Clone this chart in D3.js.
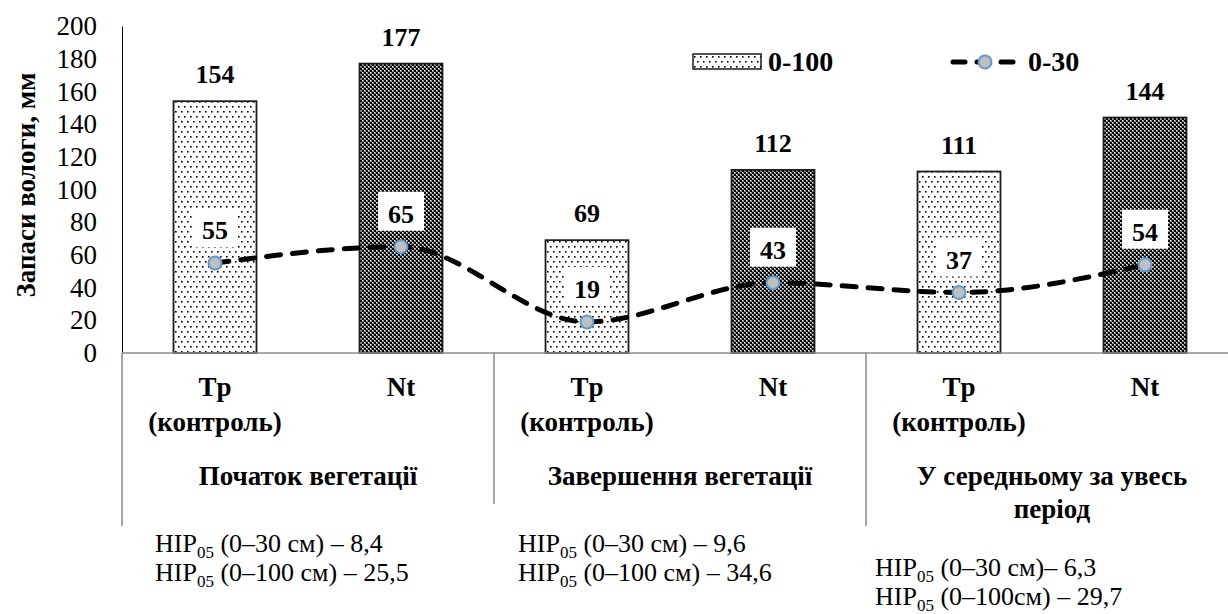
<!DOCTYPE html>
<html>
<head>
<meta charset="utf-8">
<script src="https://cdn.jsdelivr.net/npm/d3@7"></script>
<style>
  body { margin: 0; background: #fff; }
  svg { display: block; }
  svg text { font-family: "Liberation Serif", "DejaVu Serif", "Noto Serif", "Times New Roman", Times, serif; }
</style>
</head>
<body>
<div id="chart"></div>
<script>
// data
const groups = ["Початок вегетації", "Завершення вегетації", "У середньому за увесь період"];
const groupLabelLines = [["Початок вегетації"], ["Завершення вегетації"], ["У середньому за увесь", "період"]];
const variants = ["Tp", "Nt"];
const variantLabelLines = [["Tp", "(контроль)"], ["Nt"]];
const stock0_100 = [154, 177, 69, 112, 111, 144];
const stock0_30 = [55, 65, 19, 43, 37, 54];
const yTicks = [0, 20, 40, 60, 80, 100, 120, 140, 160, 180, 200];
const hip30 = ["(0–30 см) – 8,4", "(0–30 см) – 9,6", "(0–30 см)– 6,3"];
const hip100 = ["(0–100 см) – 25,5", "(0–100 см) – 34,6", "(0–100см) – 29,7"];
const legendNames = ["0-100", "0-30"];

const width = 1228, height = 614;
const plotLeft = 122, plotRight = 1238, plotTop = 26, plotBottom = 353;
const serif = "'Liberation Serif', 'DejaVu Serif', 'Noto Serif', 'Times New Roman', serif";

const svg = d3.select("#chart").append("svg")
    .attr("width", width)
    .attr("height", height)
    .attr("viewBox", `0 0 ${width} ${height}`)
    .style("font-family", serif);

// patterns
const defs = svg.append("defs");
const dots = defs.append("pattern")
    .attr("id", "dots")
    .attr("patternUnits", "userSpaceOnUse")
    .attr("width", 6).attr("height", 10);
dots.append("rect").attr("width", 6).attr("height", 10).attr("fill", "#fff");
dots.append("rect").attr("x", 1).attr("y", 1).attr("width", 1.6).attr("height", 1.6).attr("fill", "#000");
dots.append("rect").attr("x", 4).attr("y", 6).attr("width", 1.6).attr("height", 1.6).attr("fill", "#000");

const checks = defs.append("pattern")
    .attr("id", "checks")
    .attr("patternUnits", "userSpaceOnUse")
    .attr("width", 4).attr("height", 4);
checks.append("rect").attr("width", 4).attr("height", 4).attr("fill", "#8a8a8a");
checks.append("rect").attr("x", 0).attr("y", 0).attr("width", 2).attr("height", 2).attr("fill", "#000");
checks.append("rect").attr("x", 2).attr("y", 2).attr("width", 2).attr("height", 2).attr("fill", "#000");
checks.append("rect").attr("x", 2).attr("y", 0).attr("width", 1).attr("height", 1).attr("fill", "#fff");
checks.append("rect").attr("x", 0).attr("y", 2).attr("width", 1).attr("height", 1).attr("fill", "#fff");

const fills = ["url(#dots)", "url(#checks)"];

const rows = groups.flatMap((g, gi) => variants.map((v, vi) => ({
    group: g,
    variant: v,
    vi: vi,
    deep: stock0_100[gi * 2 + vi],
    shallow: stock0_30[gi * 2 + vi]
})));

const groupX = d3.scaleBand().domain(groups).range([plotLeft, plotRight]);
const subX = d3.scaleBand().domain(variants)
    .range([0, groupX.bandwidth()])
    .paddingInner(0.554)
    .paddingOuter(0.277);
const y = d3.scaleLinear().domain([0, 200]).range([plotBottom, plotTop]);

const cx = d => groupX(d.group) + subX(d.variant) + subX.bandwidth() / 2;

// y axis
const yAxis = svg.append("g")
    .attr("transform", `translate(${plotLeft},0)`)
    .call(d3.axisLeft(y).tickValues(yTicks).tickSize(0).tickPadding(25));
yAxis.attr("font-family", serif);
yAxis.select(".domain").attr("stroke", "#000").attr("stroke-width", 1);
yAxis.selectAll("text")
    .style("font-family", serif)
    .style("font-size", "27px")
    .attr("fill", "#000");

svg.append("text")
    .attr("transform", "translate(35,185) rotate(-90)")
    .attr("text-anchor", "middle")
    .style("font-size", "27px")
    .style("font-weight", "bold")
    .text("Запаси вологи, мм");

// bars
svg.selectAll(".bar")
    .data(rows)
    .join("rect")
    .attr("class", "bar")
    .attr("x", d => groupX(d.group) + subX(d.variant))
    .attr("y", d => y(d.deep))
    .attr("width", subX.bandwidth())
    .attr("height", d => y(0) - y(d.deep))
    .attr("fill", d => fills[d.vi])
    .attr("stroke", "#1a1a1a")
    .attr("stroke-width", 1.8);

// category axis
svg.append("line")
    .attr("x1", plotLeft).attr("x2", plotRight)
    .attr("y1", plotBottom).attr("y2", plotBottom)
    .attr("stroke", "#8c8c8c").attr("stroke-width", 1.5);

const sepEnds = [526, 504, 526];
groups.forEach((g, gi) => {
    svg.append("line")
        .attr("x1", groupX(g)).attr("x2", groupX(g))
        .attr("y1", plotBottom).attr("y2", sepEnds[gi])
        .attr("stroke", "#8c8c8c").attr("stroke-width", 1.5);
});

rows.forEach(d => {
    const t = svg.append("text")
        .attr("text-anchor", "middle")
        .style("font-size", "27px")
        .style("font-weight", "bold");
    variantLabelLines[d.vi].forEach((line, i) => {
        t.append("tspan")
            .attr("x", cx(d))
            .attr("y", 396 + i * 35)
            .text(line);
    });
});

groups.forEach((g, gi) => {
    const t = svg.append("text")
        .attr("text-anchor", "middle")
        .style("font-size", "27px")
        .style("font-weight", "bold");
    groupLabelLines[gi].forEach((line, i) => {
        t.append("tspan")
            .attr("x", groupX(g) + groupX.bandwidth() / 2)
            .attr("y", 485 + i * 33)
            .text(line);
    });
});

// НІР notes under each group
const hipX = [155, 518, 875];
const hipY = [552, 552, 576];
groups.forEach((g, gi) => {
    [hip30[gi], hip100[gi]].forEach((txt, i) => {
        const t = svg.append("text")
            .attr("x", hipX[gi])
            .attr("y", hipY[gi] + i * 29)
            .style("font-size", "26px");
        t.append("tspan").text("НІР");
        t.append("tspan").attr("dy", 6).style("font-size", "17px").text("05");
        t.append("tspan").attr("dy", -6).text(" " + txt);
    });
});

// 0-30 line
const line = d3.line()
    .x(d => cx(d))
    .y(d => y(d.shallow))
    .curve(d3.curveMonotoneX);

svg.append("path")
    .datum(rows)
    .attr("fill", "none")
    .attr("stroke", "#000")
    .attr("stroke-width", 5)
    .attr("stroke-linecap", "round")
    .attr("stroke-dasharray", "14,12")
    .attr("d", line);

svg.selectAll(".pt")
    .data(rows)
    .join("circle")
    .attr("class", "pt")
    .attr("cx", cx)
    .attr("cy", d => y(d.shallow))
    .attr("r", 6.5)
    .attr("fill", "#bfbfbf")
    .attr("stroke", "#5b9bd5")
    .attr("stroke-width", 2);

// labels for line points, on white boxes
rows.forEach(d => {
    svg.append("rect")
        .attr("x", cx(d) - 23)
        .attr("y", y(d.shallow) - 55)
        .attr("width", 46)
        .attr("height", 39)
        .attr("fill", "#fff");
    svg.append("text")
        .attr("x", cx(d))
        .attr("y", y(d.shallow) - 24)
        .attr("text-anchor", "middle")
        .style("font-size", "26px")
        .style("font-weight", "bold")
        .text(d.shallow);
});

// labels for bars
svg.selectAll(".bar-label")
    .data(rows)
    .join("text")
    .attr("class", "bar-label")
    .attr("x", cx)
    .attr("y", d => y(d.deep) - 18)
    .attr("text-anchor", "middle")
    .style("font-size", "26px")
    .style("font-weight", "bold")
    .text(d => d.deep);

// legend
const legend = svg.append("g");
legend.append("rect")
    .attr("x", 693).attr("y", 54)
    .attr("width", 68).attr("height", 15)
    .attr("fill", "url(#dots)")
    .attr("stroke", "#1a1a1a").attr("stroke-width", 1.5);
legend.append("text")
    .attr("x", 768).attr("y", 71)
    .style("font-size", "28px").style("font-weight", "bold")
    .text(legendNames[0]);
legend.append("line")
    .attr("x1", 953).attr("x2", 1013)
    .attr("y1", 62).attr("y2", 62)
    .attr("stroke", "#000").attr("stroke-width", 5)
    .attr("stroke-linecap", "round")
    .attr("stroke-dasharray", "12,12");
legend.append("circle")
    .attr("cx", 985).attr("cy", 62).attr("r", 6.5)
    .attr("fill", "#bfbfbf").attr("stroke", "#5b9bd5").attr("stroke-width", 2);
legend.append("text")
    .attr("x", 1028).attr("y", 71)
    .style("font-size", "28px").style("font-weight", "bold")
    .text(legendNames[1]);
</script>
</body>
</html>
